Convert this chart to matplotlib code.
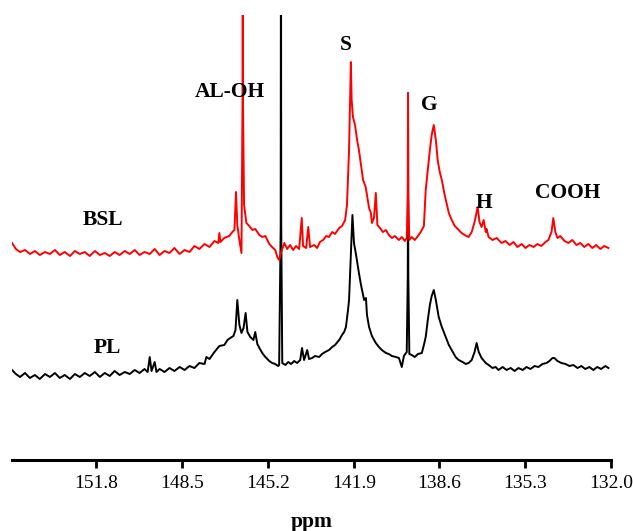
import matplotlib.pyplot as plt
import matplotlib as mpl

# 13C NMR spectra (arbitrary intensity units)
bsl_ppm = [155.05, 154.90, 154.74, 154.55, 154.36, 154.17, 153.98, 153.78, 153.59, 153.40,
           153.21, 153.02, 152.82, 152.63, 152.44, 152.25, 152.06, 151.86, 151.67, 151.48,
           151.29, 151.10, 150.91, 150.71, 150.52, 150.33, 150.14, 149.95, 149.75, 149.56,
           149.37, 149.18, 148.99, 148.80, 148.60, 148.41, 148.22, 148.03, 147.84, 147.64,
           147.45, 147.26, 147.11, 147.07, 147.03, 146.88, 146.69, 146.57, 146.49, 146.43,
           146.38, 146.30, 146.22, 146.18, 146.17, 146.16, 146.12, 146.03, 145.92, 145.80,
           145.69, 145.53, 145.42, 145.30, 145.15, 145.04, 144.92, 144.84, 144.77, 144.69,
           144.57, 144.46, 144.35, 144.23, 144.12, 144.00, 143.90, 143.85, 143.73, 143.65,
           143.58, 143.42, 143.31, 143.20, 143.08, 142.96, 142.85, 142.73, 142.62, 142.46,
           142.35, 142.23, 142.16, 142.08, 142.01, 141.98, 141.93, 141.85, 141.77, 141.70,
           141.62, 141.54, 141.44, 141.39, 141.31, 141.24, 141.20, 141.12, 141.05, 140.99,
           140.89, 140.78, 140.66, 140.55, 140.43, 140.32, 140.16, 140.05, 139.93, 139.86,
           139.82, 139.81, 139.80, 139.76, 139.67, 139.55, 139.43, 139.32, 139.20, 139.13,
           139.05, 138.97, 138.90, 138.82, 138.74, 138.67, 138.59, 138.51, 138.40, 138.24,
           138.13, 138.01, 137.86, 137.75, 137.63, 137.48, 137.36, 137.25, 137.13, 137.06,
           136.98, 136.90, 136.82, 136.79, 136.71, 136.56, 136.40, 136.21, 136.06, 135.90,
           135.75, 135.60, 135.44, 135.29, 135.14, 134.98, 134.83, 134.68, 134.52, 134.41,
           134.29, 134.22, 134.14, 134.06, 133.95, 133.79, 133.64, 133.49, 133.33, 133.18,
           133.03, 132.87, 132.72, 132.57, 132.41, 132.26, 132.10]
bsl_int = [12, 6, 3, 5, 1, 4, 0, 3, 1, 5,
           0, 3, -1, 4, 1, 3, -1, 4, 0, 2,
           -1, 3, 0, 4, 1, 5, 0, 3, 1, 6,
           0, 4, 2, 7, 1, 5, 3, 9, 6, 11,
           8, 14, 12, 22, 13, 17, 19, 23, 25, 63,
           30, 15, 2, 150, 405, 150, 50, 32, 29, 25,
           26, 20, 18, 19, 11, 8, 5, -2, -5, 3,
           12, 6, 10, 5, 9, 6, 37, 9, 7, 28,
           8, 10, 7, 13, 15, 19, 18, 23, 21, 27,
           29, 35, 50, 105, 193, 155, 138, 130, 115, 105,
           90, 75, 68, 60, 47, 42, 32, 37, 62, 30,
           27, 23, 25, 20, 17, 19, 15, 18, 14, 17,
           60, 162, 60, 15, 18, 15, 19, 23, 29, 65,
           85, 105, 120, 130, 115, 95, 83, 75, 60, 42,
           35, 29, 25, 22, 20, 18, 23, 33, 48, 33,
           28, 35, 23, 26, 18, 15, 17, 12, 14, 10,
           13, 8, 11, 7, 10, 8, 11, 9, 13, 15,
           23, 37, 23, 17, 19, 14, 12, 15, 10, 12,
           8, 11, 7, 10, 6, 9, 7]

pl_ppm = [155.05, 154.90, 154.74, 154.55, 154.36, 154.17, 153.98, 153.78, 153.59, 153.40,
          153.21, 153.02, 152.82, 152.63, 152.44, 152.25, 152.06, 151.86, 151.67, 151.48,
          151.29, 151.10, 150.91, 150.71, 150.52, 150.33, 150.14, 149.95, 149.83, 149.75,
          149.68, 149.56, 149.49, 149.37, 149.18, 148.99, 148.80, 148.60, 148.41, 148.22,
          148.03, 147.84, 147.64, 147.57, 147.45, 147.26, 147.07, 146.88, 146.76, 146.65,
          146.53, 146.45, 146.38, 146.30, 146.22, 146.14, 146.06, 145.99, 145.88, 145.76,
          145.69, 145.61, 145.53, 145.42, 145.30, 145.15, 145.04, 144.92, 144.81, 144.77,
          144.71, 144.70, 144.69, 144.65, 144.53, 144.42, 144.31, 144.19, 144.08, 143.96,
          143.89, 143.81, 143.69, 143.62, 143.50, 143.39, 143.23, 143.12, 143.00, 142.85,
          142.73, 142.62, 142.46, 142.35, 142.27, 142.20, 142.12, 142.08, 142.02, 141.95,
          141.89, 141.81, 141.70, 141.62, 141.50, 141.43, 141.39, 141.31, 141.20, 141.05,
          140.93, 140.82, 140.66, 140.55, 140.43, 140.28, 140.16, 140.05, 139.97, 139.86,
          139.82, 139.81, 139.80, 139.76, 139.67, 139.55, 139.43, 139.28, 139.20, 139.13,
          139.05, 138.97, 138.90, 138.82, 138.74, 138.63, 138.51, 138.36, 138.24, 138.09,
          137.98, 137.86, 137.71, 137.59, 137.48, 137.36, 137.25, 137.17, 137.09, 136.98,
          136.82, 136.71, 136.56, 136.44, 136.33, 136.17, 136.02, 135.86, 135.71, 135.56,
          135.40, 135.25, 135.10, 134.94, 134.79, 134.64, 134.48, 134.37, 134.25, 134.18,
          134.06, 133.91, 133.75, 133.60, 133.45, 133.29, 133.14, 132.99, 132.83, 132.68,
          132.53, 132.38, 132.22, 132.10]
pl_int = [5, 1, -2, 2, -3, 0, -4, 1, -2, 2,
          -3, 0, -4, 1, -2, 2, -1, 3, -2, 2,
          -1, 4, 0, 3, 1, 5, 2, 6, 3, 18,
          4, 13, 3, 6, 3, 7, 4, 8, 5, 9,
          7, 12, 11, 18, 16, 23, 29, 30, 35, 37,
          39, 45, 75, 50, 42, 47, 62, 43, 38, 35,
          43, 31, 27, 22, 18, 14, 12, 11, 9, 10,
          150, 525, 150, 12, 10, 13, 11, 14, 12, 15,
          27, 15, 25, 16, 17, 19, 18, 21, 23, 25,
          28, 30, 35, 40, 43, 48, 65, 75, 115, 160,
          132, 120, 102, 90, 75, 77, 60, 48, 39, 32,
          28, 25, 22, 21, 19, 18, 17, 8, 19, 23,
          100, 282, 100, 21, 20, 18, 21, 22, 30, 38,
          55, 70, 79, 85, 75, 58, 48, 38, 30, 23,
          18, 15, 13, 11, 12, 15, 23, 32, 23, 17,
          12, 10, 7, 8, 5, 8, 5, 7, 4, 7,
          5, 8, 6, 9, 8, 11, 12, 14, 17, 17,
          14, 12, 11, 9, 10, 7, 9, 6, 8, 5,
          8, 6, 9, 7]

tick_values = [151.8, 148.5, 145.2, 141.9, 138.6, 135.3, 132.0]

peak_labels = ['AL-OH', 'S', 'G', 'H', 'COOH']
peak_ppm = [146.68, 142.19, 139.01, 136.90, 133.68]
peak_height = [363, 410, 350, 252, 262]

sample_labels = ['BSL', 'PL']
sample_ppm = [151.56, 151.39]
sample_height = [235, 107]

bsl_offset = 205
pl_offset = 85


def main():
    mpl.rcParams['font.family'] = ['Liberation Serif', 'DejaVu Serif']

    fig = plt.figure(figsize=(6.33, 5.31), dpi=100)
    ax = fig.add_axes([12 / 633, 71 / 531, 599 / 633, 445 / 531])

    # black drawn first so the red trace sits on top where they cross
    ax.plot(pl_ppm, [v + pl_offset for v in pl_int], color='black', lw=1.4)
    ax.plot(bsl_ppm, [v + bsl_offset for v in bsl_int], color='#ff0000', lw=1.4)

    for lab, x, y in zip(peak_labels, peak_ppm, peak_height):
        ax.text(x, y, lab, ha='center', va='baseline', fontsize=15.5, fontweight='bold')
    for lab, x, y in zip(sample_labels, sample_ppm, sample_height):
        ax.text(x, y, lab, ha='center', va='baseline', fontsize=15.5, fontweight='bold')

    ax.set_xlim(155.05, 132.0)
    ax.set_ylim(0, 445)
    ax.set_xticks(tick_values)
    ax.set_xticklabels([f'{t:.1f}' for t in tick_values])
    ax.tick_params(axis='x', direction='out', length=6, width=2, pad=5, labelsize=14)
    ax.set_yticks([])
    for side in ['top', 'left', 'right']:
        ax.spines[side].set_visible(False)
    ax.spines['bottom'].set_linewidth(2.2)
    ax.set_xlabel('ppm', fontsize=15.5, fontweight='bold', labelpad=14)

    fig.savefig('out.png', dpi=100)


if __name__ == '__main__':
    main()
